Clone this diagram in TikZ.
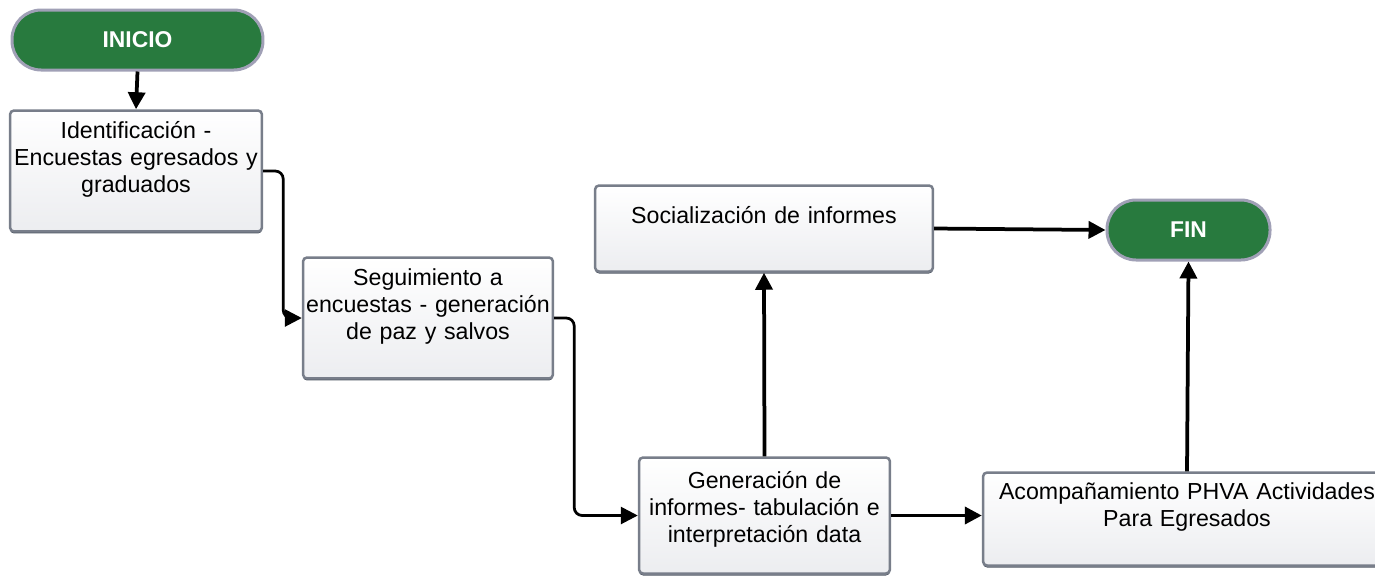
\documentclass[tikz,border=0pt]{standalone}
\usepackage{fontspec}
\setmainfont{Liberation Sans}
\usetikzlibrary{arrows.meta,shadows}

\tikzset{
  box/.style={draw={rgb,255:red,120;green,126;blue,138}, line width=0.05cm, rounded corners=0.08cm,
    top color=white, bottom color={rgb,255:red,236;green,237;blue,240}, inner sep=0pt,
    drop shadow={shadow xshift=0cm, shadow yshift=-0.04cm, fill={rgb,255:red,60;green,68;blue,82}, opacity=0.9}},
  term/.style={draw={rgb,255:red,160;green,160;blue,182}, line width=0.06cm,
    fill={rgb,255:red,40;green,122;blue,62}, rounded corners=0.58cm, minimum height=1.2cm,
    text=white, font=\bfseries\fontsize{13}{15}\selectfont, inner sep=0pt},
  txt/.style={text width=9cm, align=center, inner sep=0pt, anchor=base,
    font=\fontsize{13.2}{15.4}\selectfont},
  link/.style={line width=0.055cm, rounded corners=0.16cm, -{Triangle[length=0.34cm,width=0.34cm]}},
  flow/.style={line width=0.075cm, -{Triangle[length=0.34cm,width=0.34cm]}},
}

\begin{document}
\begin{tikzpicture}[x=0.02cm,y=-0.02cm]
\useasboundingbox (0,0) rectangle (1375,579);

% Start and end
\node[term, minimum width=5.02cm] (inicio) at (137.5,40) {INICIO};
\node[term, minimum width=3.26cm] (fin) at (1188.5,230) {FIN};

% Steps
\node[box, minimum width=5.04cm, minimum height=2.42cm] (ident) at (136,171) {};
\node[txt] (ident-t) at ([yshift=-0.58cm]ident.north) {Identificación -\\Encuestas egresados y\\graduados};

\node[box, minimum width=5cm, minimum height=2.42cm] (seg) at (428,318) {};
\node[txt] (seg-t) at ([yshift=-0.58cm]seg.north) {Seguimiento a\\encuestas - generación\\de paz y salvos};

\node[box, minimum width=5.02cm, minimum height=2.32cm] (gen) at (764.5,515.5) {};
\node[txt] (gen-t) at ([yshift=-0.64cm]gen.north) {Generación de\\informes- tabulación e\\interpretación data};

\node[box, minimum width=6.76cm, minimum height=1.72cm] (soc) at (764,228.5) {};
\node[txt] (soc-t) at ([yshift=-0.78cm]soc.north) {Socialización de informes};

\node[box, minimum width=8.16cm, minimum height=1.86cm] (acomp) at (1187,519) {};
\node[txt] (acomp-t) at ([yshift=-0.56cm]acomp.north) {Acompañamiento PHVA Actividades\\Para Egresados};

% Connectors
\draw[flow] (inicio.south) -- (ident.north);
\draw[link] (ident.east) -- ++(20,0) |- (seg.west);
\draw[link] (seg.east) -- ++(20,0) |- (gen.west);
\draw[flow] (gen.north) -- (soc.south);
\draw[flow] (gen.east) -- (gen.east -| acomp.west);
\draw[flow] (soc.east) -- (fin.west);
\draw[flow] (acomp.north) -- (fin.south);
\end{tikzpicture}
\end{document}
